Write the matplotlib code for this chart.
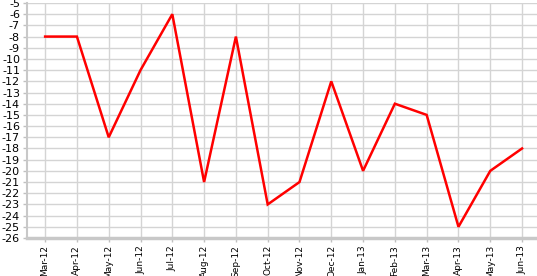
import matplotlib
matplotlib.use("Agg")
import matplotlib.pyplot as plt

months = ["Mar-12", "Apr-12", "May-12", "Jun-12", "Jul-12", "Aug-12", "Sep-12", "Oct-12",
          "Nov-12", "Dec-12", "Jan-13", "Feb-13", "Mar-13", "Apr-13", "May-13", "Jun-13"]
values = [-8, -8, -17, -11, -6, -21, -8, -23, -21, -12, -20, -14, -15, -25, -20, -18]
yticks = list(range(-26, -4))

W, H = 537, 276
fig = plt.figure(figsize=(W / 100, H / 100), dpi=100)
ax = fig.add_axes([27 / W, 38 / H, (W - 27) / W, (238 - 3) / H])

x = list(range(len(months)))
ax.plot(x, values, color="#ff0000", lw=1.8, solid_joinstyle="miter")

ax.set_ylim(-26, -5)
ax.set_xlim(-0.57, 15.47)
ax.set_yticks(yticks)
ax.set_yticklabels([str(v) for v in yticks], fontsize=8)
ax.set_xticks(x)
ax.set_xticklabels(months, rotation=90, fontsize=6.5)
ax.grid(True, color="#d4d4d4", lw=1)
ax.set_axisbelow(True)
for s in ["top", "right"]:
    ax.spines[s].set_visible(False)
ax.spines["left"].set_color("#c8c8c8")
ax.spines["left"].set_linewidth(1.5)
ax.spines["bottom"].set_color("#c8c8c8")
ax.spines["bottom"].set_linewidth(2.5)
ax.tick_params(axis="both", colors="#c0c0c0", length=3, width=1, labelcolor="black", pad=2)

fig.savefig("out.png", dpi=100)
